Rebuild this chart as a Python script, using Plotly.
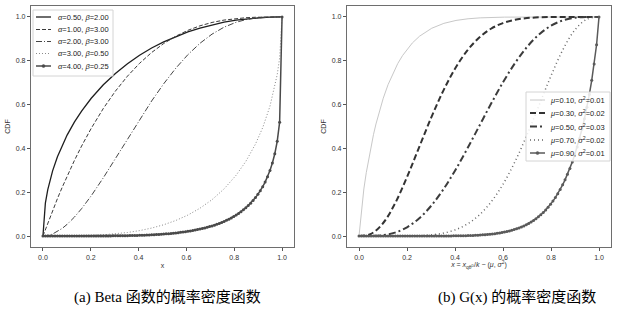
import numpy as np
import plotly.graph_objects as go

# ---------------- data: left panel (Beta CDFs) ----------------
x_beta = [0, 0.0101, 0.0202, 0.0303, 0.0404, 0.0606, 0.0808, 0.101, 0.1313, 0.1616,
          0.202, 0.2525, 0.303, 0.3535, 0.404, 0.4545, 0.505, 0.5556, 0.6061, 0.6566,
          0.7071, 0.7576, 0.8081, 0.8485, 0.8889, 0.9192, 0.9495, 0.9697, 0.9798, 0.9899, 1.0]
beta_a05_b2 = [0, 0.1502, 0.2118, 0.2585, 0.2974, 0.3618, 0.4149, 0.4607, 0.5197, 0.5705,
               0.6288, 0.6903, 0.7423, 0.7868, 0.8250, 0.8581, 0.8865, 0.9110, 0.9319, 0.9494,
               0.9640, 0.9759, 0.9852, 0.9909, 0.9952, 0.9975, 0.9990, 0.9997, 0.9999, 1.0, 1.0]
beta_a1_b3 = [0, 0.0300, 0.0594, 0.0882, 0.1164, 0.1710, 0.2233, 0.2734, 0.3444, 0.4107,
              0.4918, 0.5823, 0.6614, 0.7298, 0.7883, 0.8377, 0.8787, 0.9122, 0.9389, 0.9595,
              0.9749, 0.9858, 0.9929, 0.9965, 0.9986, 0.9995, 0.9999, 1.0, 1.0, 1.0, 1.0]
beta_a2_b3 = [0, 0.0006, 0.0024, 0.0053, 0.0093, 0.0203, 0.0351, 0.0533, 0.0862, 0.1250,
              0.1839, 0.2659, 0.3536, 0.4432, 0.5317, 0.6164, 0.6950, 0.7660, 0.8278, 0.8797,
              0.9216, 0.9534, 0.9758, 0.9877, 0.9950, 0.9980, 0.9995, 0.9999, 1.0, 1.0, 1.0]
beta_a3_b05 = [0, 0, 0, 0, 0, 0.0001, 0.0002, 0.0003, 0.0007, 0.0014,
               0.0028, 0.0056, 0.0099, 0.0162, 0.0248, 0.0364, 0.0515, 0.0710, 0.0957, 0.1269,
               0.1660, 0.2152, 0.2777, 0.3406, 0.4198, 0.4951, 0.5926, 0.6802, 0.7371, 0.8128, 1.0]

x_dense = np.linspace(0, 1, 100)
beta_a4_b025 = [0, 0, 0, 0, 0, 0, 0, 0, 0, 0,
                0, 0, 0, 0, 0, 0.0001, 0.0001, 0.0001, 0.0001, 0.0001,
                0.0002, 0.0002, 0.0003, 0.0003, 0.0004, 0.0005, 0.0005, 0.0006, 0.0007, 0.0009,
                0.0010, 0.0011, 0.0013, 0.0015, 0.0017, 0.0019, 0.0022, 0.0024, 0.0027, 0.0030,
                0.0034, 0.0038, 0.0042, 0.0047, 0.0052, 0.0057, 0.0063, 0.0069, 0.0076, 0.0084,
                0.0092, 0.0101, 0.0110, 0.0120, 0.0131, 0.0143, 0.0156, 0.0169, 0.0183, 0.0199,
                0.0216, 0.0233, 0.0253, 0.0273, 0.0295, 0.0318, 0.0344, 0.0370, 0.0399, 0.0430,
                0.0463, 0.0498, 0.0536, 0.0577, 0.0621, 0.0667, 0.0717, 0.0771, 0.0829, 0.0892,
                0.0959, 0.1032, 0.1111, 0.1196, 0.1289, 0.1390, 0.1501, 0.1622, 0.1755, 0.1903,
                0.2068, 0.2254, 0.2464, 0.2707, 0.2991, 0.3332, 0.3757, 0.4325, 0.5199, 1.0]

beta_labels = ["<i>α</i>=0.50, <i>β</i>=2.00", "<i>α</i>=1.00, <i>β</i>=3.00",
               "<i>α</i>=2.00, <i>β</i>=3.00", "<i>α</i>=3.00, <i>β</i>=0.50",
               "<i>α</i>=4.00, <i>β</i>=0.25"]

# ---------------- data: right panel (G(x) CDFs) ----------------
x_mu01 = [0, 0.0101, 0.0202, 0.0303, 0.0404, 0.0505, 0.0606, 0.0707, 0.0808, 0.0909,
          0.1010, 0.1212, 0.1414, 0.1616, 0.1818, 0.2020, 0.2222, 0.2525, 0.2828, 0.3030,
          0.3535, 0.4040, 0.4545, 0.5051, 0.6061, 0.7071, 0.8081, 1.0]
g_mu01 = [0, 0.1269, 0.2149, 0.2892, 0.3543, 0.4122, 0.4643, 0.5115, 0.5543, 0.5933,
          0.6289, 0.6913, 0.7435, 0.7875, 0.8243, 0.8553, 0.8812, 0.9123, 0.9360, 0.9484,
          0.9707, 0.9841, 0.9917, 0.9959, 0.9992, 0.9999, 1.0, 1.0]
x_grid = [0, 0.05, 0.10, 0.15, 0.20, 0.25, 0.30, 0.35, 0.40, 0.45, 0.50,
          0.55, 0.60, 0.65, 0.70, 0.75, 0.80, 0.85, 0.90, 0.95, 1.0]
g_mu03 = [0, 0.0101, 0.0583, 0.1485, 0.2690, 0.4039, 0.5381, 0.6604, 0.7637, 0.8451, 0.9050,
          0.9461, 0.9721, 0.9871, 0.9948, 0.9983, 0.9996, 0.9999, 1.0, 1.0, 1.0]
g_mu05 = [0, 0.0004, 0.0040, 0.0157, 0.0400, 0.0800, 0.1371, 0.2107, 0.2984, 0.3965, 0.5000,
          0.6035, 0.7016, 0.7893, 0.8629, 0.9200, 0.9600, 0.9843, 0.9960, 0.9996, 1.0]
g_mu07 = [0, 0, 0, 0.0001, 0.0004, 0.0017, 0.0052, 0.0129, 0.0279, 0.0539, 0.0950,
          0.1549, 0.2363, 0.3396, 0.4619, 0.5961, 0.7310, 0.8515, 0.9417, 0.9899, 1.0]
g_mu09 = [0, 0, 0, 0, 0, 0, 0, 0, 0, 0,
          0, 0, 0, 0, 0, 0, 0, 0, 0, 0,
          0, 0, 0, 0, 0, 0, 0, 0.0001, 0.0001, 0.0001,
          0.0001, 0.0001, 0.0002, 0.0002, 0.0003, 0.0003, 0.0004, 0.0005, 0.0006, 0.0008,
          0.0009, 0.0011, 0.0013, 0.0016, 0.0018, 0.0022, 0.0026, 0.0030, 0.0035, 0.0041,
          0.0047, 0.0055, 0.0063, 0.0072, 0.0083, 0.0095, 0.0109, 0.0124, 0.0141, 0.0160,
          0.0182, 0.0205, 0.0232, 0.0261, 0.0294, 0.0330, 0.0370, 0.0414, 0.0463, 0.0516,
          0.0575, 0.0640, 0.0712, 0.0791, 0.0877, 0.0971, 0.1075, 0.1188, 0.1312, 0.1447,
          0.1595, 0.1757, 0.1933, 0.2125, 0.2336, 0.2565, 0.2815, 0.3087, 0.3385, 0.3711,
          0.4067, 0.4457, 0.4885, 0.5357, 0.5878, 0.6457, 0.7108, 0.7851, 0.8731, 1.0]

g_labels = ["<i>μ</i>=0.10, <i>σ</i><sup>2</sup>=0.01", "<i>μ</i>=0.30, <i>σ</i><sup>2</sup>=0.02",
            "<i>μ</i>=0.50, <i>σ</i><sup>2</sup>=0.03", "<i>μ</i>=0.70, <i>σ</i><sup>2</sup>=0.02",
            "<i>μ</i>=0.90, <i>σ</i><sup>2</sup>=0.01"]

tick_vals = [0.0, 0.2, 0.4, 0.6, 0.8, 1.0]
tick_text = ["0.0", "0.2", "0.4", "0.6", "0.8", "1.0"]

# ---------------- styles ----------------
W, H = 625, 311
left_styles = [  # color, width, dash, marker
    ("#1e1e1e", 1.3, "solid", False),
    ("#3a3a3a", 1.0, "4px,2px", False),
    ("#454545", 1.0, "6px,2px,1px,2px", False),
    ("#8a8a8a", 1.0, "1px,2px", False),
    ("#4a4a4a", 1.5, "solid", True),
]
right_styles = [
    ("#c8c8c8", 1.0, "solid", False),
    ("#333333", 2.0, "6px,3px", False),
    ("#3c3c3c", 2.0, "7px,3px,2px,3px", False),
    ("#666666", 1.5, "1px,3px", False),
    ("#5a5a5a", 1.5, "solid", True),
]

fig = go.Figure()

def add(x, y, name, style, xa, ya, shape="linear"):
    color, width, dash, marker = style
    kw = dict(x=x, y=y, name=name, xaxis=xa, yaxis=ya, showlegend=False,
              line=dict(color=color, width=width, dash=dash, shape=shape))
    if marker:
        kw["mode"] = "lines+markers"
        kw["marker"] = dict(symbol="circle", size=3, color=color)
    else:
        kw["mode"] = "lines"
    fig.add_trace(go.Scatter(**kw))

left_series = [(x_beta, beta_a05_b2), (x_beta, beta_a1_b3), (x_beta, beta_a2_b3),
               (x_beta, beta_a3_b05), (x_dense, beta_a4_b025)]
for (xs, ys), lab, st in zip(left_series, beta_labels, left_styles):
    add(xs, ys, lab, st, "x", "y")

right_series = [(x_mu01, g_mu01, "linear"), (x_grid, g_mu03, "spline"), (x_grid, g_mu05, "spline"),
                (x_grid, g_mu07, "spline"), (x_dense, g_mu09, "linear")]
for (xs, ys, shp), lab, st in zip(right_series, g_labels, right_styles):
    add(xs, ys, lab, st, "x2", "y2", shape=shp)

# ---------------- compact legends (drawn like matplotlib's) ----------------
shapes, annos = [], []
legend_font = dict(family="Liberation Sans, Arial, sans-serif", size=7.5, color="#222222")

def px(xp):
    return xp / W

def py(yp):
    return 1 - yp / H

def legend_box(x0, x1, y0, y1, rows, labels, styles, lx0, lx1, tx):
    shapes.append(dict(type="rect", xref="paper", yref="paper",
                       x0=px(x0), x1=px(x1), y0=py(y1), y1=py(y0),
                       fillcolor="rgba(255,255,255,0.85)",
                       line=dict(color="#d4d4d4", width=1), layer="above"))
    for yr, lab, st in zip(rows, labels, styles):
        color, width, dash, marker = st
        shapes.append(dict(type="line", xref="paper", yref="paper",
                           x0=px(lx0), x1=px(lx1), y0=py(yr), y1=py(yr),
                           line=dict(color=color, width=width, dash=dash), layer="above"))
        if marker:
            cx = (lx0 + lx1) / 2
            shapes.append(dict(type="circle", xref="paper", yref="paper",
                               x0=px(cx - 1.5), x1=px(cx + 1.5), y0=py(yr + 1.5), y1=py(yr - 1.5),
                               fillcolor=color, line=dict(color=color, width=0.5), layer="above"))
        annos.append(dict(text=lab, xref="paper", yref="paper", x=px(tx), y=py(yr),
                          xanchor="left", yanchor="middle", showarrow=False, font=legend_font))

legend_box(33, 113, 10, 76, [17, 29.5, 41.5, 53.5, 66], beta_labels, left_styles, 36, 51, 56)
legend_box(526, 610, 92, 161, [100, 113, 126.5, 140, 153], g_labels, right_styles, 530, 545, 548)

# ---------------- axes ----------------
tickfont = dict(family="Liberation Sans, Arial, sans-serif", size=7, color="#333333")
common = dict(range=[-0.05, 1.05], tickvals=tick_vals, ticktext=tick_text,
              ticks="outside", ticklen=3, tickcolor="#555555", tickfont=tickfont,
              showgrid=False, zeroline=False, showline=True, linecolor="#6e6e6e",
              linewidth=1.2, mirror=True, automargin=False)
title_font = dict(family="Liberation Sans, Arial, sans-serif", size=7, color="#333333")

ydom = [64 / H, 305 / H]
fig.update_layout(
    width=W, height=H,
    margin=dict(l=0, r=0, t=0, b=0),
    paper_bgcolor="white", plot_bgcolor="white",
    showlegend=False,
    xaxis=dict(domain=[31 / W, 294 / W], anchor="y",
               title=dict(text="x", font=title_font, standoff=3), **common),
    yaxis=dict(domain=ydom, anchor="x",
               title=dict(text="CDF", font=title_font, standoff=4), **common),
    xaxis2=dict(domain=[347 / W, 611 / W], anchor="y2",
                title=dict(text="<i>x</i> = <i>x</i><sub>qθ<sup>D</sup></sub>/<i>k</i> − (<i>μ</i>, <i>σ</i><sup>2</sup>)",
                           font=title_font, standoff=2), **common),
    yaxis2=dict(domain=ydom, anchor="x2",
                title=dict(text="CDF", font=title_font, standoff=4), **common),
    shapes=shapes,
    annotations=annos,
)

cap_font = dict(family="Liberation Serif, Noto Sans CJK SC, serif", size=15, color="#000000")
fig.add_annotation(text="(a) Beta 函数的概率密度函数", x=167 / W, y=1 - 297 / H,
                   xref="paper", yref="paper", showarrow=False, font=cap_font,
                   xanchor="center", yanchor="middle")
fig.add_annotation(text="(b) G(x) 的概率密度函数", x=517 / W, y=1 - 297 / H,
                   xref="paper", yref="paper", showarrow=False, font=cap_font,
                   xanchor="center", yanchor="middle")

fig.write_html("out.html", config={"displayModeBar": False},
               post_script="document.body.style.margin='0';")
